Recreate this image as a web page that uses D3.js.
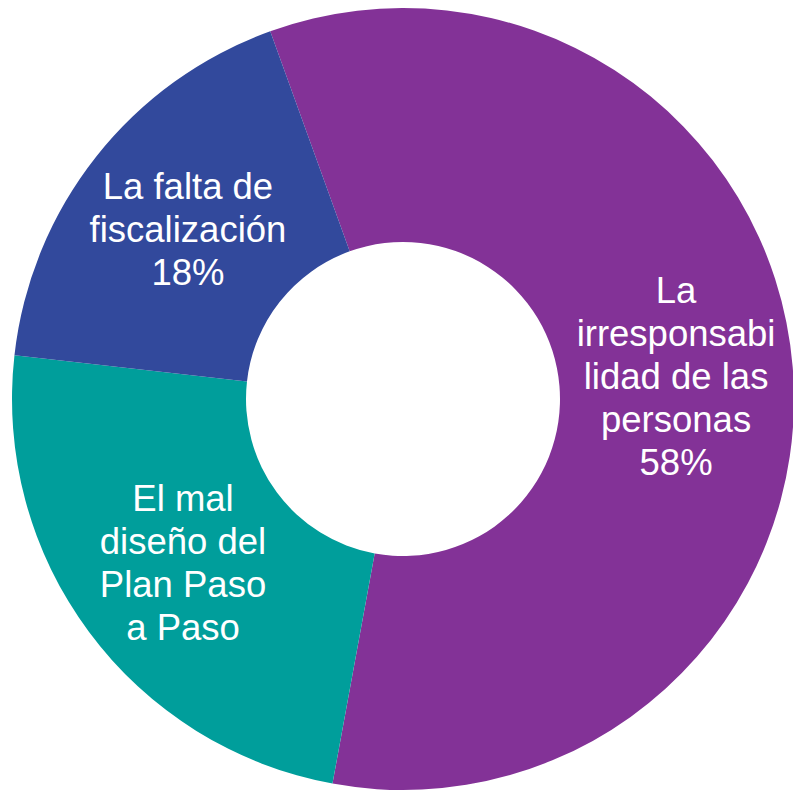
<!DOCTYPE html>
<html>
<head>
<meta charset="utf-8">
<script src="https://cdn.jsdelivr.net/npm/d3@7"></script>
<style>
  html, body { margin: 0; padding: 0; background: #fff; }
  svg { display: block; }
  .lbl { font-family: "Liberation Sans", Arial, sans-serif; font-size: 36.5px; fill: #fff; text-anchor: middle; }
</style>
</head>
<body>
<div id="chart"></div>
<script>
// data
var categories = ["La irresponsabilidad de las personas", "El mal diseño del Plan Paso a Paso", "La falta de fiscalización"];
var values = [58.4, 23.9, 17.7];
var labelLines = [
  ["La", "irresponsabi", "lidad de las", "personas"],
  ["El mal", "diseño del", "Plan Paso", "a Paso"],
  ["La falta de", "fiscalización"]
];
var showPct = [true, false, true];
var colors = ["#833297", "#009E9B", "#32499C"];

var svgWidth = 793;
var svgHeight = 791;
var cx = 403, cy = 399;
var outerR = 391, innerR = 157;
var lineH = 43;

var svg = d3.select("#chart")
  .append("svg")
  .attr("width", svgWidth)
  .attr("height", svgHeight);

var g = svg.append("g")
  .attr("transform", `translate(${cx}, ${cy})`);

var start = -19.85 * Math.PI / 180;
var pie = d3.pie()
  .sort(null)
  .value(d => d)
  .startAngle(start)
  .endAngle(start + 2 * Math.PI);

var arc = d3.arc()
  .innerRadius(innerR)
  .outerRadius(outerR);

var arcs = pie(values);

g.selectAll("path")
  .data(arcs)
  .enter()
  .append("path")
  .attr("d", arc)
  .attr("fill", (d, i) => colors[i]);

// labels centred on each slice
arcs.forEach(function(d, i) {
  var lines = labelLines[i].slice();
  if (showPct[i]) lines.push(Math.round(d.data) + "%");
  var c = arc.centroid(d);
  var y0 = c[1] - (lines.length - 1) * lineH / 2 + 13;
  var t = g.append("text").attr("class", "lbl");
  lines.forEach(function(s, k) {
    t.append("tspan")
      .attr("x", c[0])
      .attr("y", y0 + k * lineH)
      .text(s);
  });
});
</script>
</body>
</html>
